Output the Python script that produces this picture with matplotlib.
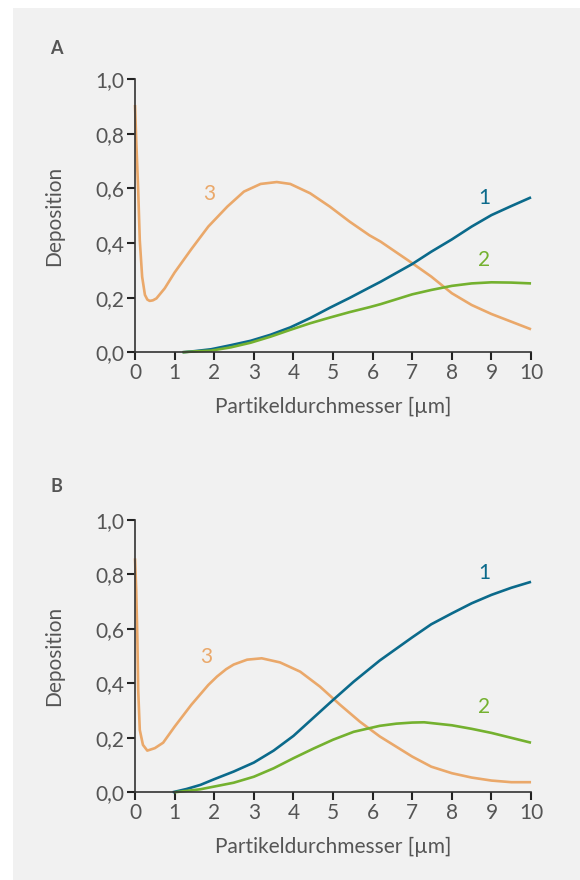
import matplotlib
matplotlib.use("Agg")
import matplotlib.pyplot as plt
from matplotlib.patches import Rectangle

plt.rcParams['font.family'] = ['Lato', 'DejaVu Sans']

# --- panel A ---
a3_x = [0, 0.03, 0.08, 0.12, 0.18, 0.25, 0.31, 0.37, 0.45, 0.54, 0.75, 1.0, 1.42, 1.85, 2.33, 2.75,
        3.17, 3.58, 3.92, 4.42, 4.92, 5.42, 5.92, 6.2, 7.0, 7.48, 8.0, 8.5, 9.0, 9.5, 10.0]
a3_y = [0.905, 0.777, 0.593, 0.41, 0.276, 0.21, 0.193, 0.188, 0.19, 0.197, 0.234, 0.292, 0.377, 0.46, 0.533, 0.588,
        0.616, 0.623, 0.616, 0.582, 0.533, 0.478, 0.428, 0.405, 0.326, 0.277, 0.216, 0.173, 0.14, 0.112, 0.084]

a1_x = [1.2, 1.5, 1.92, 2.42, 2.92, 3.42, 3.92, 4.42, 4.92, 5.42, 5.92, 6.2, 7.0, 7.48, 8.0, 8.5, 9.0, 9.5, 10.0]
a1_y = [0.0, 0.004, 0.011, 0.026, 0.042, 0.064, 0.091, 0.125, 0.163, 0.199, 0.237, 0.258, 0.323, 0.368, 0.413, 0.46, 0.502, 0.535, 0.567]

a2_x = [1.2, 1.5, 1.92, 2.42, 2.92, 3.42, 3.92, 4.42, 4.92, 5.42, 5.92, 6.2, 7.0, 7.48, 8.0, 8.5, 9.0, 9.5, 10.0]
a2_y = [0.0, 0.003, 0.006, 0.018, 0.035, 0.057, 0.082, 0.106, 0.127, 0.147, 0.165, 0.176, 0.212, 0.228, 0.243, 0.252, 0.256, 0.255, 0.252]

# --- panel B ---
b3_x = [0, 0.03, 0.06, 0.08, 0.12, 0.2, 0.31, 0.5, 0.71, 1.0, 1.42, 1.85, 2.07, 2.3, 2.49, 2.83, 3.2,
        3.66, 4.17, 4.67, 5.18, 5.68, 6.18, 7.0, 7.48, 8.0, 8.5, 9.0, 9.5, 10.0]
b3_y = [0.859, 0.743, 0.559, 0.376, 0.229, 0.174, 0.153, 0.162, 0.182, 0.241, 0.321, 0.394, 0.425, 0.452, 0.469, 0.487, 0.492,
        0.477, 0.443, 0.388, 0.321, 0.259, 0.205, 0.131, 0.094, 0.07, 0.054, 0.043, 0.037, 0.037]

b1_x = [0.95, 1.3, 1.65, 2.0, 2.49, 3.0, 3.5, 4.0, 4.5, 5.0, 5.52, 6.18, 7.0, 7.48, 8.0, 8.5, 9.0, 9.5, 10.0]
b1_y = [0.0, 0.012, 0.027, 0.048, 0.076, 0.109, 0.153, 0.207, 0.273, 0.339, 0.406, 0.484, 0.569, 0.617, 0.657, 0.694, 0.725, 0.751, 0.773]

b2_x = [1.0, 1.3, 1.65, 2.0, 2.49, 3.0, 3.5, 4.0, 4.5, 5.0, 5.52, 6.18, 6.6, 7.0, 7.3, 8.0, 8.5, 9.0, 9.5, 10.0]
b2_y = [0.0, 0.005, 0.011, 0.021, 0.035, 0.057, 0.088, 0.125, 0.16, 0.193, 0.222, 0.244, 0.252, 0.256, 0.257, 0.246, 0.233, 0.218, 0.2, 0.182]

panels = [
    ("A", [0.2328, 0.5997, 0.6828, 0.3105], (a1_x, a1_y), (a2_x, a2_y), (a3_x, a3_y),
     [(8.82, 0.564), (8.82, 0.337), (1.87, 0.578)], 0.945),
    ("B", [0.2328, 0.0997, 0.6828, 0.3094], (b1_x, b1_y), (b2_x, b2_y), (b3_x, b3_y),
     [(8.82, 0.806), (8.82, 0.314), (1.81, 0.496)], 0.447),
]

blue = '#0b6a8b'
green = '#74b12f'
orange = '#eaa86a'
txt = '#555555'

fig = plt.figure(figsize=(5.8, 8.8), dpi=100)
fig.patches.append(Rectangle((13 / 580, 0), 1, 1 - 8 / 880, transform=fig.transFigure,
                             facecolor='#f1f1f1', edgecolor='none', zorder=-10))

for name, pos, s1, s2, s3, lab, ylab in panels:
    ax = fig.add_axes(pos)
    ax.set_facecolor('none')
    ax.plot(s3[0], s3[1], color=orange, lw=1.9, solid_capstyle='butt', clip_on=False)
    ax.plot(s1[0], s1[1], color=blue, lw=1.9, solid_capstyle='butt', clip_on=False)
    ax.plot(s2[0], s2[1], color=green, lw=1.9, solid_capstyle='butt', clip_on=False)
    for (tx, ty), c, s in zip(lab, [blue, green, orange], ['1', '2', '3']):
        ax.text(tx, ty, s, color=c, fontsize=15, ha='center', va='center')
    ax.set_xlim(0, 10)
    ax.set_ylim(0, 1)
    ax.set_xticks(range(0, 11))
    ax.set_yticks([0, 0.2, 0.4, 0.6, 0.8, 1.0])
    ax.set_yticklabels(['0,0', '0,2', '0,4', '0,6', '0,8', '1,0'])
    for sp in ['top', 'right']:
        ax.spines[sp].set_visible(False)
    for sp in ['left', 'bottom']:
        ax.spines[sp].set_color('#333333')
        ax.spines[sp].set_linewidth(1.2)
    ax.tick_params(direction='out', length=6, width=1.5, color='#222222',
                   labelcolor=txt, labelsize=15, pad=2)
    ax.set_xlabel('Partikeldurchmesser [µm]', color=txt, fontsize=15, labelpad=10)
    ax.set_ylabel('Deposition', color=txt, fontsize=15, labelpad=22)
    fig.text(50 / 580, ylab, name, fontsize=13, fontweight='bold', color=txt, va='center')

fig.savefig('out.png', dpi=100)
